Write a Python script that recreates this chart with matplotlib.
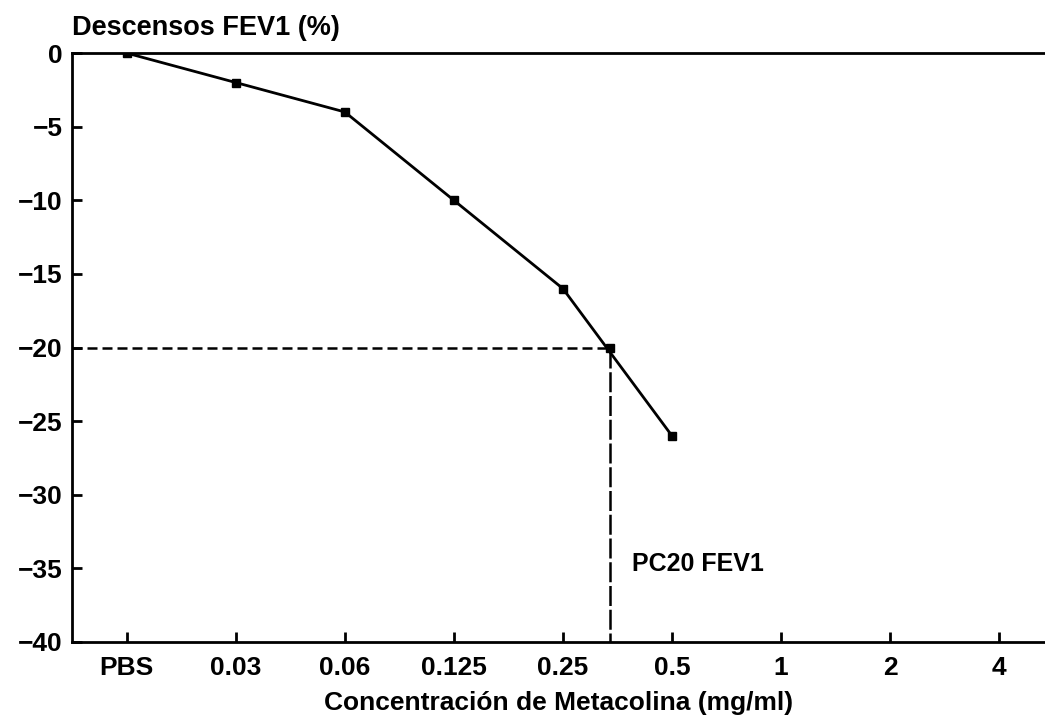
import matplotlib
matplotlib.use("Agg")
import matplotlib.pyplot as plt

plt.rcParams['font.family'] = ['Liberation Sans', 'DejaVu Sans']
plt.rcParams['axes.unicode_minus'] = True

# Metacholine challenge: fall in FEV1 per concentration step
concentrations = ['PBS', '0.03', '0.06', '0.125', '0.25', '0.5', '1', '2', '4']
fev1_drop = [0, -2, -4, -10, -16, -26]
pc20_position = 4.43   # position on the concentration axis where FEV1 falls 20 %
pc20_level = -20
y_ticks = [0, -5, -10, -15, -20, -25, -30, -35, -40]

fig = plt.figure(figsize=(10.45, 7.27), dpi=100)
ax = fig.add_axes([0.069, 0.117, 0.931, 0.810])

x_meas = list(range(len(fev1_drop)))
ax.plot(x_meas, fev1_drop, color='black', lw=2.0, marker='s', ms=6,
        markerfacecolor='black', markeredgecolor='black', zorder=3)

# PC20 guide lines
ax.plot([-0.5, pc20_position], [pc20_level, pc20_level], color='black', lw=1.8,
        dashes=(4, 2))
ax.plot([pc20_position, pc20_position], [pc20_level, -40], color='black', lw=1.8,
        dashes=(8, 1.5))
ax.plot([pc20_position], [pc20_level], marker='s', ms=6, color='black')
ax.text(pc20_position + 0.2, -34.7, 'PC20 FEV1', fontsize=18, fontweight='bold',
        va='center', ha='left')

ax.set_xlim(-0.5, 8.42)
ax.set_ylim(-40, 0)
ax.set_xticks(range(len(concentrations)))
ax.set_xticklabels(concentrations)
ax.set_yticks(y_ticks)
ax.set_yticklabels([str(v).replace('-', '\u2212') for v in y_ticks])

ax.spines['right'].set_visible(False)
for s in ('left', 'top', 'bottom'):
    ax.spines[s].set_linewidth(2.0)

ax.tick_params(axis='both', direction='in', length=7, width=2.0, labelsize=19)
ax.tick_params(axis='x', pad=10)
ax.tick_params(axis='y', pad=7)
for lab in ax.get_xticklabels() + ax.get_yticklabels():
    lab.set_fontweight('bold')

ax.set_xlabel('Concentración de Metacolina (mg/ml)', fontsize=19,
              fontweight='bold', labelpad=8)
fig.text(0.069, 0.962, 'Descensos FEV1 (%)', fontsize=19.5, fontweight='bold',
         ha='left', va='center')

fig.savefig('out.png', dpi=100)
